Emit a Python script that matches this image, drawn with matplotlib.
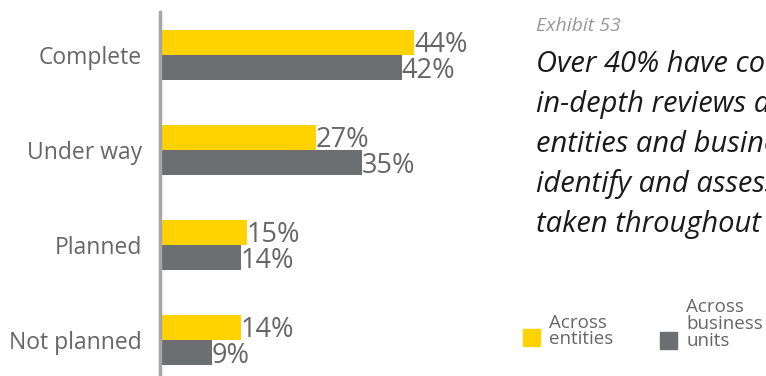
import matplotlib.pyplot as plt

categories = ["Complete", "Under way", "Planned", "Not planned"]
entities = [44, 27, 15, 14]
business_units = [42, 35, 14, 9]
legend_labels = ["Across\nentities", "Across\nbusiness\nunits"]
exhibit = "Exhibit 53"
headline = ["Over 40% have completed",
            "in-depth reviews across",
            "entities and business units to",
            "identify and assess the actions",
            "taken throughout"]

YELLOW = "#FFD200"
GREY = "#6D6E71"
TEXT = "#666666"

plt.rcParams["font.family"] = ["Open Sans", "DejaVu Sans"]

W, H = 766, 376
fig = plt.figure(figsize=(W / 100, H / 100), dpi=100)

# axes: left edge at the grey axis line, 5.77 px per percent
x0, x1 = 160, 160 + 50 * 5.77
y_top = 12
ax = fig.add_axes([x0 / W, 0, (x1 - x0) / W, (H - y_top) / H])

ypos = list(range(len(categories)))
bh = 0.265
ax.barh([y - bh / 2 for y in ypos], entities, height=bh, color=YELLOW)
ax.barh([y + bh / 2 for y in ypos], business_units, height=bh, color=GREY)

# baseline sits ~10 px below the bar centre
off = 10 / 95
for y, v in zip(ypos, entities):
    ax.text(v, y - bh / 2 + off, f"{v}%", va="baseline", ha="left",
            fontsize=19.5, color=TEXT)
for y, v in zip(ypos, business_units):
    ax.text(v - 0.1, y + bh / 2 + off, f"{v}%", va="baseline", ha="left",
            fontsize=19.5, color=TEXT)

ax.set_xlim(0, 50)
ax.set_ylim(3 + 36 / 95, -43 / 95)
ax.set_yticks(ypos)
ax.set_yticklabels(categories, fontsize=16.5, color=TEXT)
ax.tick_params(axis="y", length=0, pad=13)
ax.set_xticks([])
for s in ["top", "right", "bottom"]:
    ax.spines[s].set_visible(False)
ax.spines["left"].set_color("#a6a6a6")
ax.spines["left"].set_linewidth(2.5)

# headline text on the right (runs off the right edge, as in the original)
fig.text(536 / W, 1 - 31 / H, exhibit, fontsize=14, style="italic",
         color="#999999", va="baseline")
for i, line in enumerate(headline):
    fig.text(536 / W, 1 - (72 + 40 * i) / H, line, fontsize=21,
             style="italic", color="#1a1a1a", va="baseline")

# legend
fig.patches.append(plt.Rectangle((523 / W, 1 - 346 / H), 17 / W, 17 / H,
                                 color=YELLOW, transform=fig.transFigure))
fig.patches.append(plt.Rectangle((660 / W, 1 - 349 / H), 17 / W, 17 / H,
                                 color=GREY, transform=fig.transFigure))
fig.text(549 / W, 1 - 331 / H, legend_labels[0], fontsize=13.5, color=TEXT,
         va="center", linespacing=0.9)
fig.text(686 / W, 1 - 324 / H, legend_labels[1], fontsize=13.5, color=TEXT,
         va="center", linespacing=0.9)

fig.savefig("out.png", dpi=100)
